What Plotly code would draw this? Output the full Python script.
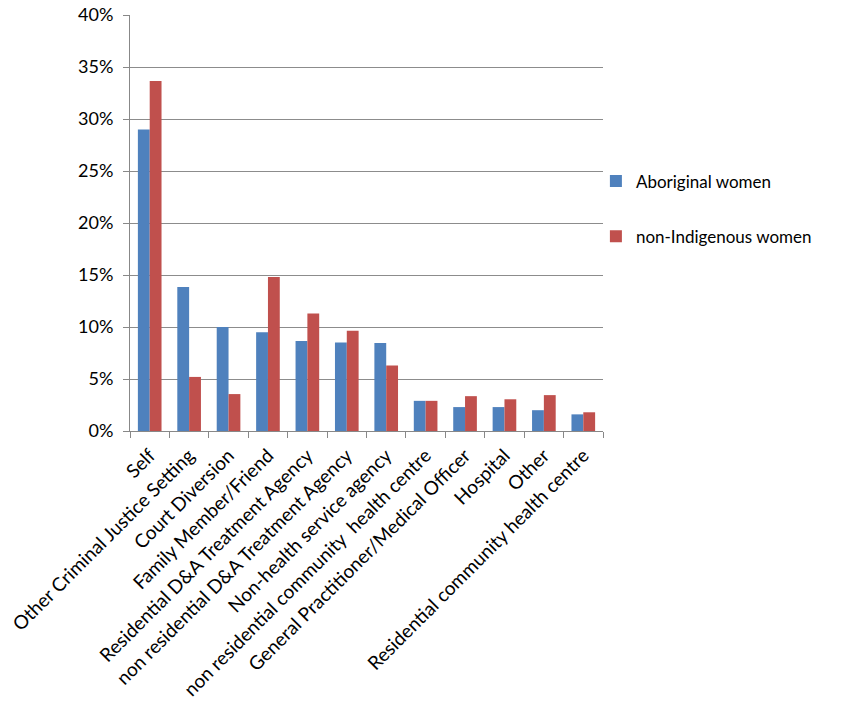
import plotly.graph_objects as go

# Referral sources for women entering treatment
categories = [
    "Self",
    "Other Criminal Justice Setting",
    "Court Diversion",
    "Family Member/Friend",
    "Residential D&A Treatment Agency",
    "non residential D&A Treatment Agency",
    "Non-health service agency",
    "non residential community  health centre",
    "General Practitioner/Medical Officer",
    "Hospital",
    "Other",
    "Residential community health centre",
]

aboriginal = [0.290, 0.1385, 0.100, 0.095, 0.0865, 0.085, 0.0845, 0.029, 0.023, 0.023, 0.020, 0.016]
non_indigenous = [0.3365, 0.052, 0.0355, 0.148, 0.113, 0.0965, 0.063, 0.029, 0.0335, 0.0305, 0.0345, 0.018]

y_ticks = [0, 0.05, 0.10, 0.15, 0.20, 0.25, 0.30, 0.35, 0.40]

FONT = "Lato, 'Open Sans', sans-serif"

fig = go.Figure()
fig.add_trace(go.Bar(
    x=categories, y=aboriginal, name="Aboriginal women",
    marker=dict(color="#4F81BD", line=dict(width=0)), legendgroup="a",
))
fig.add_trace(go.Bar(
    x=categories, y=non_indigenous, name="non-Indigenous women",
    marker=dict(color="#C0504D", line=dict(width=0)), legendgroup="b",
))

fig.update_layout(
    width=842, height=723,
    margin=dict(l=130, r=239, t=15, b=292),
    paper_bgcolor="white", plot_bgcolor="white",
    barmode="group", bargap=0.4, bargroupgap=0,
    font=dict(family=FONT, size=18, color="black"),
    showlegend=True,
    legend=dict(
        x=0.985, y=0.643, xanchor="left", yanchor="top",
        font=dict(size=17, family=FONT),
        tracegroupgap=30, bgcolor="rgba(0,0,0,0)",
    ),
)
fig.update_xaxes(
    type="category", tickangle=-45, tickfont=dict(size=19, family=FONT),
    showline=True, linecolor="#888888", linewidth=1,
    ticks="outside", tickson="boundaries", ticklen=6, tickcolor="#888888",
    ticklabelstandoff=5, automargin=False,
    showgrid=False,
)
fig.update_yaxes(
    range=[0, 0.4], tickvals=y_ticks, tickformat=".0%",
    tickfont=dict(size=18, family=FONT),
    showline=True, linecolor="#888888", linewidth=1,
    ticks="outside", ticklen=6, tickcolor="#888888",
    ticklabelstandoff=6, automargin=False,
    showgrid=True, gridcolor="#8c8c8c", gridwidth=1,
    zeroline=False,
)

fig.write_html("out.html")
